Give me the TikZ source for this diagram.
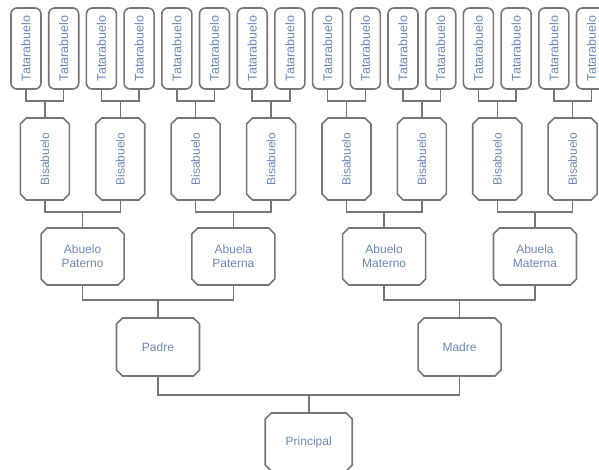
\documentclass[tikz,border=0pt]{standalone}
\usepackage{fontspec}
\setmainfont{Liberation Sans}
\usetikzlibrary{shapes.misc}
\definecolor{frame}{HTML}{767676}
\definecolor{label}{HTML}{6C88B8}

\begin{document}
\begin{tikzpicture}[
  x=1pt, y=-1pt, line width=1.6pt,
  link/.style={draw=frame, line width=1.5pt},
  tatara/.style={draw=frame, fill=white, rounded corners=6pt, minimum width=30pt,
    minimum height=81pt, inner sep=0pt, text=label, font=\fontsize{12.5}{14}\selectfont},
  octobox/.style={chamfered rectangle, chamfered rectangle xsep=3pt, chamfered rectangle ysep=3pt,
    draw=frame, fill=white, inner sep=0pt, text=label, align=center,
    font=\fontsize{12}{14}\selectfont},
]
  \useasboundingbox (0,0) rectangle (599,469);
  \clip (0,0) rectangle (599,469);

  % Grid: first column and column pitch; everything below sits between its two parents.
  \def\ox{26} \def\dx{37.7}
  \coordinate (bar1) at (0,101);   % tatarabuelos -> bisabuelos
  \coordinate (bar2) at (0,212);   % bisabuelos -> abuelos
  \coordinate (bar3) at (0,300);   % abuelos -> padres
  \coordinate (bar4) at (0,395);   % padres -> principal

  % Generations, top to bottom.
  \foreach \i in {1,...,16}
    \node[tatara] (t\i) at ({\ox+(\i-1)*\dx},48.5) {\rotatebox{90}{Tatarabuelo}};
  \foreach \j in {1,...,8}
    \node[octobox, minimum width=49pt, minimum height=82pt] (b\j)
      at ({\ox+(2*\j-1.5)*\dx},159) {\rotatebox{90}{Bisabuelo}};
  \foreach \k/\txt in {1/{Abuelo\\Paterno}, 2/{Abuela\\Paterna}, 3/{Abuelo\\Materno}, 4/{Abuela\\Materna}}
    \node[octobox, minimum width=83pt, minimum height=57pt] (a\k)
      at ({\ox+(4*\k-2.5)*\dx},256.5) {\txt};
  \node[octobox, minimum width=83pt, minimum height=58pt] (padre) at ({\ox+3.5*\dx},347) {Padre};
  \node[octobox, minimum width=83pt, minimum height=58pt] (madre) at ({\ox+11.5*\dx},347) {Madre};
  \node[octobox, minimum width=87pt, minimum height=58pt] (yo) at ({\ox+7.5*\dx},442) {Principal};

  % Brackets joining each pair to its child.
  \foreach \j [evaluate=\j as \l using {int(2*\j-1)}, evaluate=\j as \r using {int(2*\j)}] in {1,...,8}
    \draw[link] (t\l.south) |- (b\j.north |- bar1) -| (t\r.south) (b\j.north) -- (b\j.north |- bar1);
  \foreach \k [evaluate=\k as \l using {int(2*\k-1)}, evaluate=\k as \r using {int(2*\k)}] in {1,...,4}
    \draw[link] (b\l.south) |- (a\k.north |- bar2) -| (b\r.south) (a\k.north) -- (a\k.north |- bar2);
  \draw[link] (a1.south) |- (padre.north |- bar3) -| (a2.south) (padre.north) -- (padre.north |- bar3);
  \draw[link] (a3.south) |- (madre.north |- bar3) -| (a4.south) (madre.north) -- (madre.north |- bar3);
  \draw[link] (padre.south) |- (yo.north |- bar4) -| (madre.south) (yo.north) -- (yo.north |- bar4);
\end{tikzpicture}
\end{document}
